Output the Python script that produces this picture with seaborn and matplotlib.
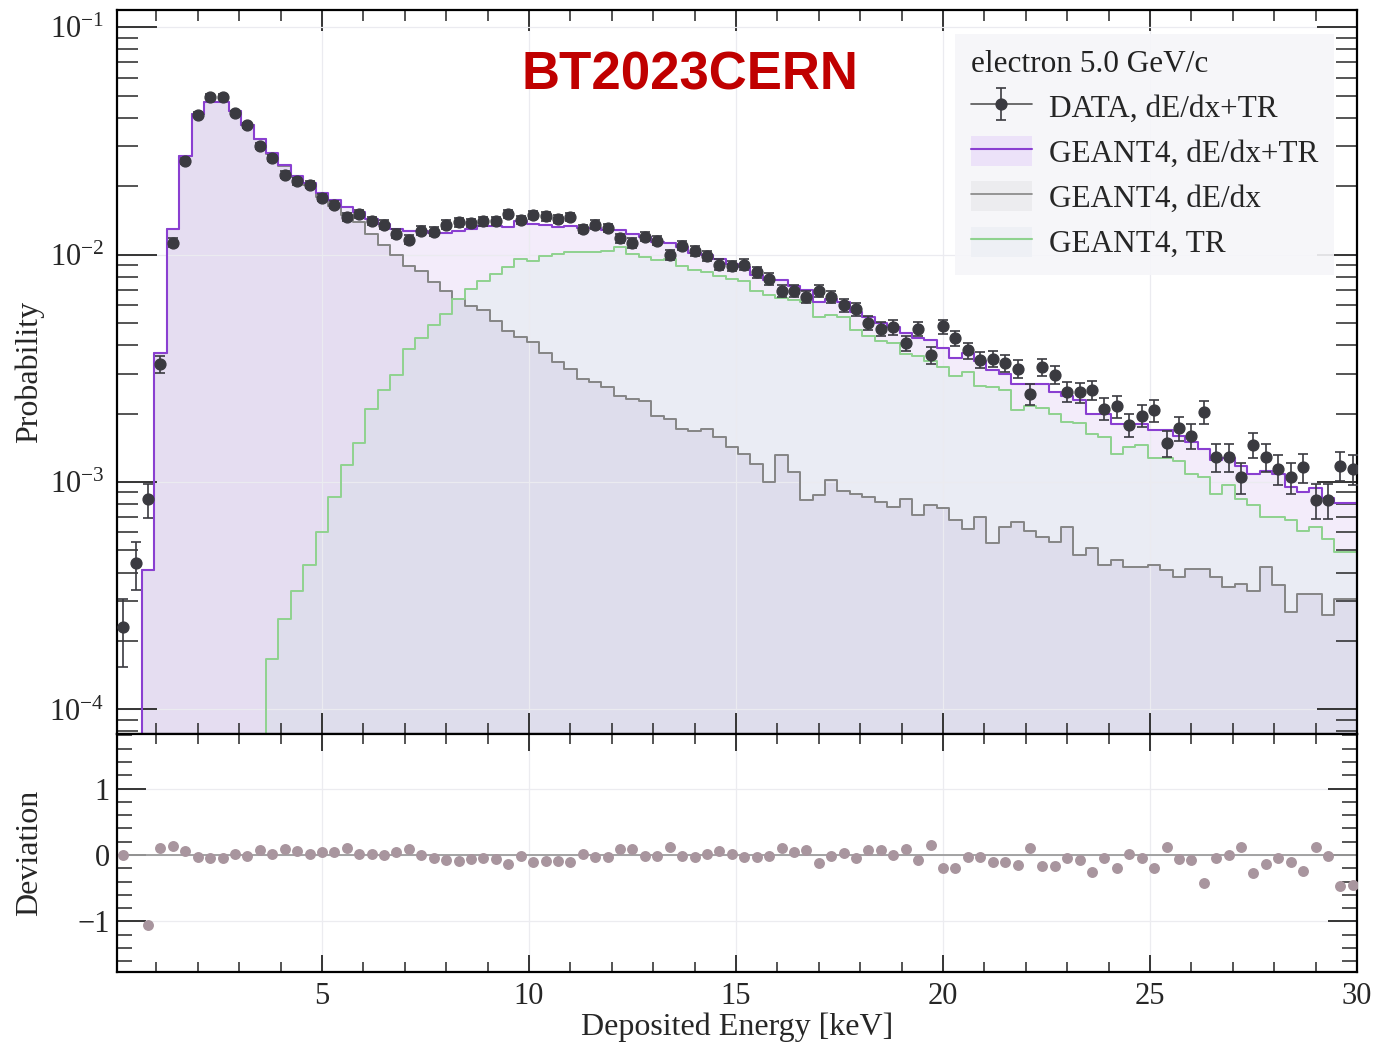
import numpy as np
import pandas as pd
import matplotlib
matplotlib.use("Agg")
import matplotlib.pyplot as plt
import seaborn as sns
from matplotlib.lines import Line2D
from matplotlib.patches import Patch
from matplotlib.legend_handler import HandlerTuple
from matplotlib.ticker import MultipleLocator, LogLocator, NullFormatter

# ---------------- data ----------------
bin_edges_keV = [round(0.05 + 0.3 * i, 4) for i in range(101)]

data_prob = [
    2.3e-4, 4.4e-4, 8.4e-4, 3.3e-3, 0.0113, 0.0259, 0.0412, 0.0495, 0.0495, 0.0420,
    0.0370, 0.0300, 0.0267, 0.0225, 0.0210, 0.0203, 0.0178, 0.0166, 0.0146, 0.0151,
    0.0141, 0.01355, 0.01236, 0.01164, 0.01274, 0.01262, 0.01355, 0.01387, 0.01377, 0.0140,
    0.0141, 0.0151, 0.01421, 0.0150, 0.01473, 0.01435, 0.01469, 0.01297, 0.01355, 0.0131,
    0.0118, 0.01125, 0.0120, 0.01153, 0.00997, 0.01096, 0.01042, 0.0099, 0.00904, 0.00895,
    0.00904, 0.00836, 0.00782, 0.00695, 0.0069, 0.00653, 0.00695, 0.00653, 0.00601, 0.00577,
    0.00501, 0.00471, 0.00479, 0.00407, 0.00471, 0.00362, 0.00483, 0.00430, 0.00379, 0.00345,
    0.00348, 0.00333, 0.00315, 0.00244, 0.00320, 0.00297, 0.00250, 0.00248, 0.00254, 0.00210,
    0.00215, 0.00179, 0.00196, 0.00207, 0.00148, 0.00173, 0.00160, 0.00203, 0.00129, 0.00129,
    0.00105, 0.00146, 0.00129, 0.00114, 0.00105, 0.00116, 0.000835, 0.000835, 0.00118, 0.00114,
]

data_err = [
    7.6e-5, 1.05e-4, 1.45e-4, 2.9e-4, 5.3e-4, 8.0e-4, 1.0e-3, 1.1e-3, 1.1e-3, 1.0e-3,
    9.6e-4, 8.7e-4, 8.2e-4, 7.5e-4, 7.2e-4, 7.1e-4, 6.7e-4, 6.4e-4, 6.0e-4, 6.1e-4,
    5.9e-4, 5.8e-4, 5.6e-4, 5.4e-4, 5.6e-4, 5.6e-4, 5.8e-4, 5.9e-4, 5.9e-4, 5.9e-4,
    5.9e-4, 6.1e-4, 6.0e-4, 6.1e-4, 6.1e-4, 6.0e-4, 6.1e-4, 5.7e-4, 5.8e-4, 5.7e-4,
    5.4e-4, 5.3e-4, 5.5e-4, 5.4e-4, 5.0e-4, 5.2e-4, 5.1e-4, 5.0e-4, 4.8e-4, 4.7e-4,
    4.8e-4, 4.6e-4, 4.4e-4, 4.2e-4, 4.2e-4, 4.0e-4, 4.2e-4, 4.0e-4, 3.9e-4, 3.8e-4,
    3.5e-4, 3.4e-4, 3.5e-4, 3.2e-4, 3.4e-4, 3.0e-4, 3.5e-4, 3.3e-4, 3.1e-4, 2.9e-4,
    2.9e-4, 2.9e-4, 2.8e-4, 2.5e-4, 2.8e-4, 2.7e-4, 2.5e-4, 2.5e-4, 2.5e-4, 2.3e-4,
    2.3e-4, 2.1e-4, 2.2e-4, 2.3e-4, 1.9e-4, 2.1e-4, 2.0e-4, 2.3e-4, 1.8e-4, 1.8e-4,
    1.6e-4, 1.9e-4, 1.8e-4, 1.7e-4, 1.6e-4, 1.7e-4, 1.45e-4, 1.45e-4, 1.7e-4, 1.7e-4,
]

geant_total = [
    0.0, 0.0, 4.1e-4, 3.7e-3, 0.0129, 0.0272, 0.0415, 0.0470, 0.0470, 0.0428,
    0.0372, 0.0323, 0.0280, 0.0248, 0.0222, 0.0207, 0.0186, 0.0173, 0.0162, 0.0154,
    0.0144, 0.0136, 0.0130, 0.0127, 0.0127, 0.0124, 0.0125, 0.0127, 0.0129, 0.0134,
    0.0133, 0.0132, 0.0140, 0.0136, 0.0135, 0.0132, 0.0133, 0.0131, 0.0131, 0.0128,
    0.0128, 0.0123, 0.0119, 0.0114, 0.0112, 0.0108, 0.0102, 0.0100, 0.0096, 0.0091,
    0.0088, 0.0081, 0.0077, 0.0077, 0.0073, 0.0070, 0.0062, 0.0064, 0.0062, 0.0056,
    0.0053, 0.0050, 0.0048, 0.0045, 0.0043, 0.0042, 0.0039, 0.0035, 0.0037, 0.0034,
    0.0031, 0.0030, 0.0027, 0.0027, 0.0027, 0.0025, 0.0024, 0.0023, 0.0020, 0.0020,
    0.0018, 0.0018, 0.0018, 0.0017, 0.0017, 0.0016, 0.0015, 0.0014, 0.00125, 0.00128,
    0.00118, 0.00108, 0.00112, 0.00108, 0.00095, 0.00090, 0.00094, 0.00085, 0.00081, 0.00081,
]

geant_dedx = [
    0.0, 0.0, 4.1e-4, 3.7e-3, 0.0129, 0.0272, 0.0415, 0.0470, 0.0470, 0.0428,
    0.0372, 0.0323, 0.0278, 0.0246, 0.0219, 0.0203, 0.0180, 0.0164, 0.0150, 0.0139,
    0.0123, 0.0110, 0.0100, 0.0089, 0.0085, 0.0076, 0.00695, 0.0064, 0.00597, 0.00568,
    0.00513, 0.00463, 0.00433, 0.00412, 0.00368, 0.00336, 0.00314, 0.00284, 0.00275, 0.00261,
    0.00240, 0.00232, 0.00228, 0.00196, 0.00190, 0.00171, 0.00168, 0.00171, 0.00157, 0.00143,
    0.00133, 0.00120, 0.000998, 0.00132, 0.00111, 0.000835, 0.000873, 0.00102, 0.000912, 0.000888,
    0.000857, 0.000815, 0.000775, 0.000844, 0.000713, 0.000796, 0.000770, 0.000678, 0.000623, 0.000700,
    0.000538, 0.000633, 0.000665, 0.000612, 0.000572, 0.000543, 0.000633, 0.000480, 0.000514, 0.000430,
    0.000455, 0.000425, 0.000425, 0.000430, 0.000411, 0.000382, 0.000416, 0.000416, 0.000382, 0.000345,
    0.000357, 0.000331, 0.000422, 0.000351, 0.000268, 0.000323, 0.000321, 0.000259, 0.000307, 0.000307,
]

geant_tr = [
    0.0, 0.0, 0.0, 0.0, 0.0, 0.0, 0.0, 0.0, 0.0, 0.0,
    0.0, 0.0, 1.66e-4, 2.5e-4, 3.31e-4, 4.3e-4, 6.0e-4, 8.57e-4, 1.19e-3, 1.48e-3,
    2.1e-3, 2.54e-3, 2.96e-3, 3.85e-3, 4.3e-3, 4.9e-3, 5.5e-3, 6.38e-3, 7.06e-3, 7.69e-3,
    8.23e-3, 8.8e-3, 9.57e-3, 9.41e-3, 9.9e-3, 0.01007, 0.01023, 0.01023, 0.0103, 0.0104,
    0.0108, 0.01007, 0.00973, 0.00948, 0.00957, 0.00895, 0.00857, 0.00836, 0.00809, 0.00782,
    0.00763, 0.00695, 0.00667, 0.00645, 0.0063, 0.0062, 0.0053, 0.0054, 0.0053, 0.00467,
    0.0044, 0.00415, 0.0041, 0.00366, 0.0036, 0.0034, 0.0032, 0.00294, 0.00305, 0.00265,
    0.00262, 0.00255, 0.00208, 0.00215, 0.00212, 0.0020, 0.00183, 0.00181, 0.00162, 0.00157,
    0.00133, 0.00142, 0.00145, 0.00128, 0.00128, 0.00124, 0.00109, 0.00105, 0.000888, 0.000966,
    0.000844, 0.00079, 0.000705, 0.000705, 0.000678, 0.000612, 0.000633, 0.000563, 0.000491, 0.000491,
]

deviation = [
    0.0, np.nan, -1.05, 0.11, 0.135, 0.06, -0.03, -0.05, -0.05, 0.01,
    -0.015, 0.07, 0.02, 0.085, 0.06, 0.02, 0.045, 0.045, 0.11, 0.02,
    0.02, 0.0, 0.05, 0.085, 0.0, -0.04, -0.08, -0.09, -0.065, -0.04,
    -0.065, -0.13, -0.015, -0.10, -0.09, -0.09, -0.10, 0.01, -0.03, -0.03,
    0.085, 0.095, -0.015, -0.015, 0.12, -0.015, -0.03, 0.01, 0.06, 0.01,
    -0.03, -0.03, -0.015, 0.11, 0.05, 0.07, -0.115, -0.015, 0.035, -0.04,
    0.07, 0.07, 0.0, 0.095, -0.08, 0.15, -0.19, -0.19, -0.03, -0.03,
    -0.10, -0.10, -0.15, 0.11, -0.165, -0.165, -0.04, -0.08, -0.25, -0.04,
    -0.20, 0.02, -0.05, -0.20, 0.12, -0.065, -0.08, -0.425, -0.04, 0.0,
    0.12, -0.275, -0.13, -0.05, -0.105, -0.24, 0.12, -0.015, -0.465, -0.45,
]

legend_title = "electron 5.0 GeV/c"
legend_labels = ["DATA, dE/dx+TR", "GEANT4, dE/dx+TR", "GEANT4, dE/dx", "GEANT4, TR"]

# ---------------- style ----------------
sns.set_style("ticks")
plt.rcParams["font.family"] = ["Liberation Serif", "DejaVu Serif"]
plt.rcParams["mathtext.fontset"] = "stix"
plt.rcParams["axes.unicode_minus"] = True

edges = np.array(bin_edges_keV)
centers = 0.5 * (edges[:-1] + edges[1:])
df = pd.DataFrame({"E": centers, "total": geant_total, "dedx": geant_dedx,
                   "tr": geant_tr, "data": data_prob, "err": data_err, "dev": deviation})

W, H = 1378, 1045
fig = plt.figure(figsize=(W / 100, H / 100), dpi=100)
ax1 = fig.add_axes([117 / W, 1 - 734 / H, 1240 / W, 724 / H])
ax2 = fig.add_axes([117 / W, 1 - 972 / H, 1240 / W, 238 / H], sharex=ax1)

c_total_fill = "#f3ecfa"
c_tr_fill = "#eaedf4"
c_dedx_fill = "#9a89bf"
c_total_line = "#8a3fd1"
c_dedx_line = "#858585"
c_tr_line = "#8fd28f"
c_data = "#3a3a40"

bins = list(bin_edges_keV)
# fills
sns.histplot(data=df, x="E", weights="total", bins=bins, element="step", fill=True,
             color=c_total_fill, alpha=1.0, linewidth=0, ax=ax1)
sns.histplot(data=df, x="E", weights="tr", bins=bins, element="step", fill=True,
             color=c_tr_fill, alpha=0.95, linewidth=0, ax=ax1)
sns.histplot(data=df, x="E", weights="dedx", bins=bins, element="step", fill=True,
             color=c_dedx_fill, alpha=0.15, linewidth=0, ax=ax1)
# outlines
sns.histplot(data=df, x="E", weights="dedx", bins=bins, element="step", fill=False,
             color=c_dedx_line, linewidth=1.4, ax=ax1)
sns.histplot(data=df, x="E", weights="tr", bins=bins, element="step", fill=False,
             color=c_tr_line, linewidth=1.4, ax=ax1)
sns.histplot(data=df, x="E", weights="total", bins=bins, element="step", fill=False,
             color=c_total_line, linewidth=1.5, ax=ax1)

data_cont = ax1.errorbar(df["E"], df["data"], yerr=df["err"], fmt="o", color=c_data,
                         ms=7.8, capsize=3.5, elinewidth=1.2, capthick=1.2, zorder=6)

ax1.set_yscale("log")
ax1.set_xlim(0.05, 30)
ax1.set_ylim(7.8e-5, 0.119)
ax1.set_xlabel("")
ax1.set_ylabel("Probability", fontsize=23)
ax1.yaxis.set_label_coords(-0.059, 0.5)
ax1.xaxis.set_major_locator(MultipleLocator(5))
ax1.xaxis.set_minor_locator(MultipleLocator(1))
ax1.yaxis.set_major_locator(LogLocator(base=10, numticks=10))
ax1.yaxis.set_minor_locator(LogLocator(base=10, subs=np.arange(2, 10), numticks=30))
ax1.yaxis.set_minor_formatter(NullFormatter())
ax1.tick_params(axis="x", which="major", direction="in", length=15, width=1.3,
                top=True, bottom=True, labelbottom=False)
ax1.tick_params(axis="x", which="minor", direction="in", length=8, width=1.1,
                top=True, bottom=True)
ax1.tick_params(axis="y", which="major", direction="in", length=29, width=1.3,
                left=True, right=True, labelsize=22, pad=9)
ax1.tick_params(axis="y", which="minor", direction="in", length=15, width=1.1,
                left=True, right=True)
ax1.set_axisbelow("line")
ax1.grid(True, which="major", color="#ebebf0", linewidth=0.9)

# legend
handles = [
    (Line2D([0], [0], color="#555555", lw=1.2), data_cont),
    (Patch(facecolor="#ece2f9", edgecolor="none"), Line2D([0], [0], color=c_total_line, lw=1.5)),
    (Patch(facecolor="#ececef", edgecolor="none"), Line2D([0], [0], color=c_dedx_line, lw=1.2)),
    (Patch(facecolor="#eef0f5", edgecolor="none"), Line2D([0], [0], color=c_tr_line, lw=1.5)),
]
leg = ax1.legend(handles, legend_labels, title=legend_title, loc="upper left",
                 bbox_to_anchor=(955 / W, 1 - 34 / H), bbox_transform=fig.transFigure,
                 borderaxespad=0.0,
                 fontsize=22.5, title_fontsize=22.5, alignment="left", frameon=True,
                 facecolor="#f6f6f9", edgecolor="none", framealpha=0.9, fancybox=False,
                 handlelength=1.95, handleheight=1.1, handletextpad=0.55, labelspacing=0.4,
                 borderpad=0.5, handler_map={tuple: HandlerTuple(ndivide=1)})
leg.get_title().set_color("#222222")

fig.text(690 / W, 1 - 75 / H, "BT2023CERN", fontsize=38, fontweight="bold",
         color="#c00000", family=["Liberation Sans", "DejaVu Sans"], ha="center", va="center")

# deviation panel
ax2.axhline(0, color="#9c9c9c", linewidth=1.3, zorder=2)
sns.scatterplot(data=df, x="E", y="dev", color="#a8959e", s=62, linewidth=0,
                ax=ax2, zorder=3)
ax2.set_ylim(-1.76, 1.82)
ax2.set_ylabel("Deviation", fontsize=23)
ax2.yaxis.set_label_coords(-0.059, 0.5)
ax2.set_xlabel("Deposited Energy [keV]", fontsize=23)
ax2.xaxis.set_label_coords(0.5, -0.17)
ax2.yaxis.set_major_locator(MultipleLocator(1))
ax2.yaxis.set_minor_locator(MultipleLocator(0.2))
ax2.tick_params(axis="x", which="major", direction="in", length=12, width=1.3,
                top=True, bottom=True, labelsize=22, pad=7)
ax2.tick_params(axis="x", which="minor", direction="in", length=7, width=1.1,
                top=True, bottom=True)
ax2.tick_params(axis="y", which="major", direction="in", length=21, width=1.3,
                left=True, right=True, labelsize=22, pad=5)
ax2.tick_params(axis="y", which="minor", direction="in", length=11, width=1.1,
                left=True, right=True)
ax2.set_axisbelow("line")
ax2.grid(True, which="major", color="#ececf0", linewidth=0.9)

for ax in (ax1, ax2):
    for sp in ax.spines.values():
        sp.set_linewidth(1.6)
        sp.set_color("black")

fig.savefig("out.png", dpi=100)
